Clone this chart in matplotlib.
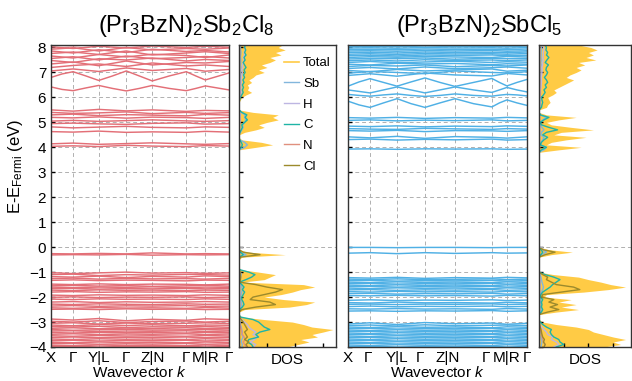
import matplotlib
matplotlib.use('Agg')
import matplotlib.pyplot as plt
from matplotlib.lines import Line2D
import numpy as np

plt.rcParams['font.family'] = ['Liberation Sans', 'DejaVu Sans']
plt.rcParams['mathtext.fontset'] = 'custom'
plt.rcParams['mathtext.rm'] = 'Liberation Sans'
plt.rcParams['mathtext.it'] = 'Liberation Sans:italic'

# ---- data -------------------------------------------------------------
titles = ['(Pr$_3$BzN)$_2$Sb$_2$Cl$_8$', '(Pr$_3$BzN)$_2$SbCl$_5$']
k_labels = ['X', 'Γ', 'Y|L', 'Γ', 'Z|N', 'Γ', 'M|R', 'Γ']
kpts_a = [0.0, 0.124, 0.268, 0.423, 0.569, 0.76, 0.867, 1.0]
kpts_b = [0.0, 0.123, 0.274, 0.43, 0.598, 0.804, 0.888, 1.0]
# where the labels sit under the right panel
klabel_pos_b = [0.0, 0.112, 0.274, 0.402, 0.559, 0.771, 0.888, 1.0]

# bands given at the high-symmetry points
bands_a = [
    [7.06, 7.14, 7.04, 7.18, 7.08, 7.16, 7.05, 7.12],
    [7.2, 7.28, 7.34, 7.24, 7.38, 7.26, 7.3, 7.24],
    [7.34, 7.42, 7.27, 7.46, 7.3, 7.4, 7.38, 7.44],
    [7.48, 7.4, 7.55, 7.5, 7.58, 7.46, 7.52, 7.48],
    [7.56, 7.63, 7.5, 7.66, 7.55, 7.6, 7.64, 7.58],
    [7.66, 7.58, 7.72, 7.62, 7.73, 7.68, 7.6, 7.7],
    [7.76, 7.82, 7.72, 7.86, 7.7, 7.78, 7.83, 7.76],
    [7.86, 7.78, 7.91, 7.8, 7.93, 7.84, 7.88, 7.82],
    [7.93, 7.99, 7.86, 8.0, 7.9, 7.96, 7.93, 7.98],
    [8.03, 7.96, 8.05, 7.98, 8.06, 8.0, 8.05, 8.01],
    [8.1, 8.07, 8.12, 8.08, 8.11, 8.09, 8.08, 8.12],
    [5.5, 5.45, 5.52, 5.46, 5.5, 5.44, 5.48, 5.46],
    [5.4, 5.36, 5.38, 5.42, 5.35, 5.4, 5.36, 5.39],
    [5.3, 5.33, 5.27, 5.31, 5.29, 5.26, 5.32, 5.29],
    [5.2, 5.18, 5.22, 5.17, 5.21, 5.19, 5.16, 5.2],
    [5.05, 5.08, 5.04, 5.07, 5.1, 5.06, 5.04, 5.07],
    [4.95, 4.97, 4.94, 4.92, 4.96, 4.98, 4.93, 4.95],
    [4.82, 4.78, 4.81, 4.84, 4.8, 4.78, 4.82, 4.8],
    [4.63, 4.61, 4.65, 4.6, 4.62, 4.6, 4.64, 4.61],
    [4.14, 4.17, 4.12, 4.15, 4.18, 4.14, 4.12, 4.15],
    [4.04, 4.06, 4.03, 4.08, 4.05, 4.03, 4.07, 4.05],
    [-0.26, -0.27, -0.25, -0.27, -0.23, -0.27, -0.26, -0.27],
    [-0.31, -0.3, -0.31, -0.29, -0.32, -0.3, -0.31, -0.3],
    [-1.02, -1.06, -1.03, -1.0, -1.04, -1.02, -1.05, -1.03],
    [-1.1, -1.08, -1.14, -1.1, -1.12, -1.09, -1.1, -1.12],
    [-1.18, -1.2, -1.16, -1.22, -1.17, -1.2, -1.15, -1.18],
    [-1.26, -1.24, -1.28, -1.25, -1.27, -1.26, -1.28, -1.25],
    [-1.33, -1.31, -1.34, -1.32, -1.33, -1.35, -1.32, -1.33],
    [-1.48, -1.5, -1.47, -1.5, -1.48, -1.49, -1.51, -1.48],
    [-1.55, -1.53, -1.56, -1.54, -1.57, -1.55, -1.53, -1.56],
    [-1.6, -1.62, -1.6, -1.61, -1.59, -1.62, -1.6, -1.61],
    [-1.66, -1.65, -1.68, -1.66, -1.67, -1.65, -1.67, -1.66],
    [-1.72, -1.74, -1.71, -1.73, -1.72, -1.74, -1.72, -1.73],
    [-1.8, -1.78, -1.81, -1.79, -1.8, -1.78, -1.81, -1.8],
    [-1.92, -1.94, -1.91, -1.93, -1.92, -1.94, -1.91, -1.93],
    [-2.01, -1.99, -2.02, -2.0, -2.01, -1.99, -2.02, -2.0],
    [-2.08, -2.1, -2.07, -2.09, -2.08, -2.1, -2.07, -2.09],
    [-2.2, -2.18, -2.22, -2.19, -2.21, -2.2, -2.18, -2.2],
    [-2.28, -2.3, -2.27, -2.29, -2.3, -2.27, -2.29, -2.28],
    [-2.36, -2.34, -2.37, -2.35, -2.36, -2.34, -2.37, -2.36],
    [-2.43, -2.45, -2.42, -2.44, -2.43, -2.45, -2.42, -2.44],
    [-2.49, -2.48, -2.5, -2.47, -2.49, -2.48, -2.5, -2.49],
    [-2.88, -2.92, -2.86, -2.95, -2.89, -2.93, -2.87, -2.9],
    [-2.97, -3.0, -2.95, -3.02, -2.98, -2.96, -3.0, -2.97],
    [-3.05, -3.03, -3.08, -3.04, -3.07, -3.05, -3.03, -3.06],
    [-3.12, -3.15, -3.1, -3.14, -3.11, -3.15, -3.12, -3.13],
    [-3.18, -3.2, -3.17, -3.22, -3.19, -3.2, -3.18, -3.21],
    [-3.25, -3.23, -3.27, -3.24, -3.26, -3.23, -3.26, -3.25],
    [-3.3, -3.33, -3.31, -3.29, -3.32, -3.31, -3.3, -3.32],
    [-3.36, -3.35, -3.38, -3.36, -3.37, -3.35, -3.38, -3.36],
    [-3.42, -3.44, -3.41, -3.43, -3.42, -3.44, -3.41, -3.43],
    [-3.49, -3.47, -3.5, -3.48, -3.49, -3.47, -3.5, -3.48],
    [-3.55, -3.57, -3.54, -3.56, -3.55, -3.57, -3.54, -3.56],
    [-3.62, -3.6, -3.63, -3.61, -3.62, -3.6, -3.63, -3.61],
    [-3.68, -3.7, -3.67, -3.69, -3.68, -3.7, -3.67, -3.69],
    [-3.75, -3.73, -3.76, -3.74, -3.75, -3.73, -3.76, -3.74],
    [-3.81, -3.83, -3.8, -3.82, -3.81, -3.83, -3.8, -3.82],
    [-3.87, -3.86, -3.89, -3.87, -3.88, -3.86, -3.89, -3.87],
    [-3.93, -3.95, -3.92, -3.94, -3.93, -3.95, -3.92, -3.94],
    [-3.98, -3.97, -4.0, -3.98, -3.99, -3.97, -4.0, -3.98],
]
# dispersive bands given at high-symmetry points and segment midpoints
wavy_a = [
    [6.8, 6.94, 7.03, 6.86, 6.68, 6.86, 7.06, 6.86, 6.66, 6.86, 7.03, 6.86, 6.7, 6.84, 6.98],
    [6.42, 6.32, 6.27, 6.38, 6.48, 6.36, 6.26, 6.36, 6.48, 6.36, 6.27, 6.36, 6.46, 6.38, 6.3],
]

bands_b = [
    [6.88, 6.95, 6.85, 6.98, 6.9, 6.86, 6.96, 6.9],
    [6.97, 7.04, 7.0, 6.95, 7.06, 7.0, 6.98, 7.03],
    [7.08, 7.03, 7.12, 7.06, 7.1, 7.14, 7.05, 7.09],
    [7.16, 7.2, 7.14, 7.22, 7.15, 7.19, 7.22, 7.17],
    [7.24, 7.28, 7.26, 7.3, 7.23, 7.28, 7.26, 7.3],
    [7.33, 7.3, 7.37, 7.34, 7.36, 7.31, 7.35, 7.33],
    [7.4, 7.44, 7.39, 7.42, 7.45, 7.4, 7.43, 7.41],
    [7.47, 7.5, 7.46, 7.51, 7.48, 7.5, 7.47, 7.5],
    [7.54, 7.56, 7.55, 7.58, 7.53, 7.57, 7.55, 7.56],
    [7.6, 7.63, 7.61, 7.64, 7.62, 7.6, 7.64, 7.62],
    [7.67, 7.69, 7.66, 7.7, 7.68, 7.7, 7.67, 7.69],
    [7.73, 7.75, 7.72, 7.76, 7.74, 7.75, 7.73, 7.76],
    [7.8, 7.81, 7.78, 7.82, 7.8, 7.81, 7.79, 7.82],
    [7.86, 7.87, 7.85, 7.88, 7.86, 7.88, 7.85, 7.87],
    [7.92, 7.93, 7.91, 7.94, 7.92, 7.93, 7.91, 7.94],
    [7.98, 7.99, 7.97, 8.0, 7.98, 7.99, 7.97, 8.0],
    [8.04, 8.05, 8.03, 8.06, 8.04, 8.05, 8.03, 8.06],
    [8.1, 8.1, 8.09, 8.11, 8.1, 8.1, 8.09, 8.11],
    [5.19, 5.17, 5.2, 5.16, 5.19, 5.17, 5.2, 5.18],
    [5.08, 5.1, 5.06, 5.09, 5.07, 5.1, 5.06, 5.08],
    [4.85, 4.83, 4.86, 4.82, 4.85, 4.83, 4.86, 4.84],
    [4.75, 4.73, 4.72, 4.76, 4.74, 4.72, 4.75, 4.73],
    [4.67, 4.65, 4.68, 4.63, 4.67, 4.66, 4.64, 4.67],
    [4.42, 4.38, 4.44, 4.36, 4.43, 4.4, 4.37, 4.42],
    [4.31, 4.33, 4.29, 4.32, 4.3, 4.33, 4.29, 4.31],
    [3.93, 3.94, 3.92, 3.94, 3.93, 3.94, 3.92, 3.93],
    [-0.01, -0.01, -0.02, -0.01, -0.01, -0.02, -0.01, -0.01],
    [-0.24, -0.22, -0.26, -0.22, -0.25, -0.22, -0.24, -0.23],
    [-1.22, -1.24, -1.21, -1.25, -1.22, -1.24, -1.21, -1.23],
    [-1.28, -1.3, -1.27, -1.3, -1.29, -1.27, -1.3, -1.28],
    [-1.34, -1.33, -1.36, -1.34, -1.35, -1.33, -1.36, -1.34],
    [-1.4, -1.42, -1.39, -1.41, -1.4, -1.42, -1.39, -1.41],
    [-1.46, -1.45, -1.48, -1.46, -1.47, -1.45, -1.48, -1.46],
    [-1.52, -1.54, -1.51, -1.53, -1.52, -1.54, -1.51, -1.53],
    [-1.58, -1.57, -1.6, -1.58, -1.59, -1.57, -1.6, -1.58],
    [-1.64, -1.66, -1.63, -1.65, -1.64, -1.66, -1.63, -1.65],
    [-1.71, -1.7, -1.73, -1.71, -1.72, -1.7, -1.73, -1.71],
    [-1.78, -1.8, -1.77, -1.79, -1.78, -1.8, -1.77, -1.79],
    [-1.86, -1.85, -1.88, -1.86, -1.87, -1.85, -1.88, -1.86],
    [-1.94, -1.95, -1.93, -1.95, -1.94, -1.96, -1.93, -1.95],
    [-2.13, -2.11, -2.14, -2.12, -2.13, -2.11, -2.14, -2.12],
    [-2.22, -2.24, -2.2, -2.23, -2.22, -2.24, -2.21, -2.23],
    [-2.29, -2.28, -2.3, -2.28, -2.29, -2.27, -2.3, -2.28],
    [-2.38, -2.36, -2.39, -2.37, -2.38, -2.36, -2.39, -2.37],
    [-2.47, -2.48, -2.46, -2.48, -2.47, -2.49, -2.46, -2.48],
    [-2.56, -2.55, -2.57, -2.55, -2.56, -2.54, -2.57, -2.55],
    [-3.08, -3.03, -3.1, -3.02, -3.07, -3.04, -3.09, -3.05],
    [-3.14, -3.12, -3.16, -3.11, -3.15, -3.13, -3.12, -3.14],
    [-3.2, -3.22, -3.19, -3.21, -3.2, -3.23, -3.19, -3.21],
    [-3.26, -3.25, -3.28, -3.26, -3.27, -3.25, -3.28, -3.26],
    [-3.32, -3.34, -3.31, -3.33, -3.32, -3.34, -3.31, -3.33],
    [-3.38, -3.37, -3.4, -3.38, -3.39, -3.37, -3.4, -3.38],
    [-3.44, -3.46, -3.43, -3.45, -3.44, -3.46, -3.43, -3.45],
    [-3.5, -3.49, -3.52, -3.5, -3.51, -3.49, -3.52, -3.5],
    [-3.56, -3.58, -3.55, -3.57, -3.56, -3.58, -3.55, -3.57],
    [-3.62, -3.61, -3.64, -3.62, -3.63, -3.61, -3.64, -3.62],
    [-3.68, -3.7, -3.67, -3.69, -3.68, -3.7, -3.67, -3.69],
    [-3.74, -3.73, -3.76, -3.74, -3.75, -3.73, -3.76, -3.74],
    [-3.8, -3.82, -3.79, -3.81, -3.8, -3.82, -3.79, -3.81],
    [-3.86, -3.85, -3.88, -3.86, -3.87, -3.85, -3.88, -3.86],
    [-3.92, -3.94, -3.91, -3.93, -3.92, -3.94, -3.91, -3.93],
    [-3.98, -3.97, -4.0, -3.98, -3.99, -3.97, -4.0, -3.98],
]
wavy_b = [
    [6.45, 6.62, 6.75, 6.6, 6.45, 6.62, 6.78, 6.6, 6.44, 6.6, 6.76, 6.6, 6.46, 6.6, 6.72],
    [6.3, 6.24, 6.18, 6.3, 6.42, 6.3, 6.18, 6.3, 6.42, 6.3, 6.2, 6.3, 6.4, 6.3, 6.22],
    [6.12, 6.08, 6.05, 6.1, 6.14, 6.08, 6.04, 6.08, 6.14, 6.08, 6.05, 6.09, 6.12, 6.1, 6.06],
    [5.85, 5.7, 5.6, 5.78, 5.95, 5.75, 5.6, 5.78, 5.95, 5.75, 5.62, 5.78, 5.9, 5.78, 5.68],
]

# DOS on a 0.1 eV grid from -4.0 to 8.1 eV
dos_energy = np.round(np.arange(-4.0, 8.11, 0.1), 2)

dos_total_a = ([1.7, 2.1, 2.5, 2.2, 2.8, 2.6, 3.0, 3.35, 2.6, 2.3,
                1.9, 0.9, 0.1, 0.0, 0.0, 0.2, 1.8, 2.4, 2.7, 1.6,
                0.9, 1.5, 1.9, 2.2, 2.7, 2.3, 0.1, 0.9, 1.1, 1.3,
                0.7, 0.05, 0.0, 0.0, 0.0, 0.0, 0.1, 1.65, 0.3, 0.0]
               + [0.0] * 40 +
               [0.6, 1.2, 0.8, 0.1, 0.0, 0.0, 0.2, 0.6, 0.9, 0.7,
                1.0, 1.4, 1.2, 1.4, 0.5, 0.0, 0.0, 0.0, 0.0, 0.05,
                0.1, 0.25, 0.45, 0.3, 0.35, 0.3, 0.45, 0.35, 0.5, 0.6,
                0.9, 0.7, 1.0, 0.8, 1.1, 1.3, 1.1, 1.5, 1.3, 1.65,
                1.4, 1.55])
dos_sb_a = ([0.1, 0.12, 0.08, 0.1, 0.15, 0.1, 0.12, 0.1, 0.08, 0.05,
             0.04, 0.02, 0.0, 0.0, 0.0, 0.02, 0.08, 0.1, 0.08, 0.05,
             0.05, 0.08, 0.1, 0.12, 0.1, 0.08, 0.0, 0.05, 0.06, 0.08,
             0.05, 0.0, 0.0, 0.0, 0.0, 0.0, 0.02, 0.25, 0.05, 0.0]
            + [0.0] * 40 +
            [0.2, 0.3, 0.2, 0.02, 0.0, 0.0, 0.05, 0.1, 0.15, 0.12,
             0.2, 0.25, 0.2, 0.22, 0.08, 0.0, 0.0, 0.0, 0.0, 0.0,
             0.02, 0.04, 0.05, 0.04, 0.05, 0.04, 0.06, 0.05, 0.06, 0.05,
             0.06, 0.05, 0.07, 0.05, 0.06, 0.07, 0.05, 0.06, 0.07, 0.06,
             0.05, 0.06])
dos_h_a = ([0.5, 0.6, 0.4, 0.55, 0.65, 0.5, 0.6, 0.45, 0.35, 0.3,
            0.2, 0.1, 0.02, 0.0, 0.0, 0.01, 0.03, 0.04, 0.03, 0.02,
            0.02, 0.03, 0.04, 0.03, 0.04, 0.03, 0.0, 0.02, 0.03, 0.04,
            0.02, 0.0, 0.0, 0.0, 0.0, 0.0, 0.0, 0.03, 0.01, 0.0]
           + [0.0] * 40 +
           [0.02, 0.03, 0.02, 0.0, 0.0, 0.0, 0.01, 0.02, 0.03, 0.02,
            0.04, 0.05, 0.04, 0.05, 0.02, 0.0, 0.0, 0.0, 0.0, 0.0,
            0.03, 0.05, 0.08, 0.06, 0.07, 0.06, 0.08, 0.07, 0.09, 0.1,
            0.12, 0.1, 0.14, 0.12, 0.15, 0.18, 0.15, 0.2, 0.18, 0.22,
            0.2, 0.22])
dos_c_a = ([0.5, 0.45, 0.3, 0.35, 0.7, 0.6, 0.75, 1.1, 0.9, 0.8,
            0.7, 0.5, 0.05, 0.0, 0.0, 0.02, 0.12, 0.18, 0.15, 0.1,
            0.1, 0.15, 0.2, 0.12, 0.18, 0.1, 0.02, 0.25, 0.45, 0.57,
            0.35, 0.02, 0.0, 0.0, 0.0, 0.0, 0.02, 0.15, 0.05, 0.0]
           + [0.0] * 40 +
           [0.08, 0.12, 0.08, 0.02, 0.0, 0.0, 0.03, 0.08, 0.12, 0.1,
            0.2, 0.3, 0.22, 0.28, 0.1, 0.0, 0.0, 0.0, 0.0, 0.02,
            0.05, 0.1, 0.15, 0.12, 0.16, 0.12, 0.18, 0.14, 0.2, 0.16,
            0.22, 0.18, 0.25, 0.2, 0.15, 0.22, 0.18, 0.25, 0.2, 0.24,
            0.2, 0.22])
dos_n_a = ([0.25, 0.2, 0.15, 0.22, 0.18, 0.12, 0.1, 0.08, 0.05, 0.03,
            0.02, 0.01, 0.0, 0.0, 0.0, 0.0, 0.01, 0.02, 0.01, 0.01]
           + [0.0] * 80 + [0.02] * 22)
dos_cl_a = ([0.3, 0.25, 0.35, 0.2, 0.3, 0.25, 0.2, 0.3, 0.25, 0.2,
             0.15, 0.08, 0.02, 0.0, 0.0, 0.1, 0.6, 1.3, 1.1, 0.4,
             0.5, 0.9, 1.3, 1.55, 1.0, 0.6, 0.02, 0.05, 0.06, 0.05,
             0.04, 0.0, 0.0, 0.0, 0.0, 0.0, 0.05, 0.75, 0.15, 0.0]
            + [0.0] * 82)

dos_total_b = ([2.6, 3.3, 3.0, 3.5, 3.0, 2.6, 2.2, 2.0, 1.5, 0.7,
                0.15, 0.0, 0.0, 0.0, 0.7, 1.6, 0.9, 1.5, 0.8, 1.3,
                0.2, 0.3, 1.8, 2.8, 3.5, 2.9, 2.5, 2.0, 1.6, 0.6,
                0.0, 0.0, 0.0, 0.0, 0.0, 0.0, 0.0, 0.5, 1.35, 0.4]
               + [0.0] * 39 + [0.8] +
               [1.7, 0.3, 0.5, 1.1, 1.9, 0.6, 0.9, 2.2, 1.3, 0.5,
                0.3, 0.8, 1.5, 0.3, 0.0, 0.0, 0.3, 0.35, 0.45, 0.4,
                0.35, 0.55, 0.7, 0.6, 0.8, 1.0, 1.2, 1.4, 1.1, 1.25,
                1.5, 1.7, 1.5, 1.85, 1.6, 2.3, 1.9, 2.2, 2.0, 2.35,
                2.1, 1.6])
dos_sb_b = ([0.08, 0.1, 0.12, 0.1, 0.08, 0.1, 0.06, 0.05, 0.04, 0.02,
             0.01, 0.0, 0.0, 0.0, 0.05, 0.1, 0.06, 0.1, 0.05, 0.08,
             0.02, 0.03, 0.1, 0.15, 0.18, 0.15, 0.12, 0.1, 0.08, 0.04,
             0.0, 0.0, 0.0, 0.0, 0.0, 0.0, 0.0, 0.1, 0.3, 0.15]
            + [0.0] * 39 + [0.2] +
            [0.3, 0.05, 0.08, 0.15, 0.2, 0.08, 0.1, 0.2, 0.12, 0.05,
             0.05, 0.15, 0.3, 0.05, 0.0, 0.0, 0.03, 0.04, 0.05, 0.04,
             0.04, 0.05, 0.06, 0.05, 0.06, 0.07, 0.08, 0.07, 0.06, 0.07,
             0.08, 0.07, 0.08, 0.09, 0.07, 0.1, 0.08, 0.09, 0.08, 0.1,
             0.09, 0.08])
dos_h_b = ([0.6, 0.8, 0.7, 0.5, 0.55, 0.35, 0.3, 0.2, 0.1, 0.05,
            0.02, 0.0, 0.0, 0.0, 0.01, 0.02, 0.01, 0.02, 0.01, 0.02,
            0.01, 0.02, 0.03, 0.04, 0.05, 0.04, 0.05, 0.04, 0.03, 0.02]
           + [0.0] * 50 +
           [0.03, 0.01, 0.02, 0.03, 0.04, 0.02, 0.03, 0.05, 0.03, 0.01,
            0.01, 0.02, 0.04, 0.01, 0.0, 0.0, 0.02, 0.03, 0.04, 0.03,
            0.04, 0.05, 0.06, 0.06, 0.08, 0.08, 0.1, 0.1, 0.09, 0.11,
            0.12, 0.13, 0.12, 0.15, 0.14, 0.18, 0.16, 0.18, 0.17, 0.2,
            0.18, 0.16])
dos_c_b = ([0.7, 1.0, 0.85, 0.8, 0.6, 0.5, 0.45, 0.5, 0.3, 0.15,
            0.05, 0.0, 0.0, 0.0, 0.1, 0.15, 0.1, 0.12, 0.1, 0.15,
            0.05, 0.08, 0.15, 0.3, 0.45, 0.55, 0.7, 0.85, 0.6, 0.25,
            0.0, 0.0, 0.0, 0.0, 0.0, 0.0, 0.0, 0.08, 0.15, 0.08]
           + [0.0] * 39 + [0.1] +
           [0.3, 0.05, 0.1, 0.2, 0.35, 0.15, 0.3, 0.75, 0.4, 0.1,
            0.05, 0.2, 0.4, 0.05, 0.0, 0.0, 0.1, 0.12, 0.15, 0.12,
            0.1, 0.18, 0.25, 0.2, 0.3, 0.25, 0.35, 0.3, 0.22, 0.3,
            0.35, 0.28, 0.3, 0.38, 0.25, 0.32, 0.4, 0.3, 0.35, 0.28,
            0.3, 0.25])
dos_n_b = ([0.2, 0.25, 0.18, 0.15, 0.12, 0.1, 0.08, 0.06, 0.04, 0.02]
           + [0.0] * 90 + [0.03] * 22)
dos_cl_b = ([0.2, 0.25, 0.18, 0.22, 0.15, 0.12, 0.1, 0.08, 0.05, 0.03,
             0.01, 0.0, 0.0, 0.0, 0.35, 0.8, 0.45, 0.75, 0.4, 0.6,
             0.1, 0.15, 0.9, 1.65, 1.4, 0.7, 0.5, 0.3, 0.35, 0.15,
             0.0, 0.0, 0.0, 0.0, 0.0, 0.0, 0.0, 0.25, 0.65, 0.15]
            + [0.0] * 82)

species = ['Sb', 'H', 'C', 'N', 'Cl']
species_colors = ['#82b6dc', '#bdb6e2', '#1fb4a6', '#e0907e', '#9c8a2c']
total_color = '#ffcb45'
band_colors = ['#e36f77', '#4fb0e5']

# ---- figure -----------------------------------------------------------
W, H = 632, 381
fig = plt.figure(figsize=(W / 100, H / 100), dpi=100)


def px_axes(x0, x1, y0=45, y1=347):
    return fig.add_axes([x0 / W, 1 - y1 / H, (x1 - x0) / W, (y1 - y0) / H])


def style_frame(ax):
    for s in ax.spines.values():
        s.set_linewidth(1.0)
        s.set_color('#333333')


def plot_bands(ax, kpts, label_pos, bands, wavy, color, ylabels):
    kpts = np.array(kpts)
    knodes = np.sort(np.concatenate([kpts, (kpts[:-1] + kpts[1:]) / 2]))
    for k in kpts[1:-1]:
        ax.axvline(k, ls=(0, (4, 3)), color='#b0b0b0', lw=0.7, zorder=0)
    for e in range(-3, 9):
        ax.axhline(e, ls=(0, (4, 3)), color='#b0b0b0', lw=0.7, zorder=0)
    for b in bands:
        ax.plot(kpts, b, color=color, lw=1.05)
    for b in wavy:
        ax.plot(knodes, b, color=color, lw=1.05)
    ax.set_xlim(0, 1)
    ax.set_ylim(-4, 8.1)
    ax.set_xticks(label_pos)
    ax.set_xticklabels(k_labels, fontsize=11)
    ax.set_yticks(range(-4, 9))
    if not ylabels:
        ax.set_yticklabels([])
    else:
        ax.tick_params(axis='y', labelsize=11)
    ax.tick_params(axis='x', length=0, pad=3)
    ax.tick_params(axis='y', direction='in', length=3, width=1.0)
    ax.set_xlabel('Wavevector $k$', fontsize=11, labelpad=0)
    style_frame(ax)


def plot_dos(ax, total, parts, xmax):
    ax.fill_betweenx(dos_energy, 0, total, color=total_color, lw=0)
    for vals, c in zip(parts, species_colors):
        ax.plot(vals, dos_energy, color=c, lw=1.0)
    ax.axhline(0, color='#b0b0b0', ls=(0, (4, 3)), lw=0.7)
    ax.set_xlim(0, xmax)
    ax.set_ylim(-4, 8.1)
    ax.set_yticks(range(-4, 9))
    ax.set_yticklabels([])
    ax.set_xticks([1, 2, 3])
    ax.set_xticklabels([])
    ax.tick_params(direction='in', length=3, width=1.0)
    ax.set_xlabel('DOS', fontsize=11, labelpad=1)
    style_frame(ax)


ax_band_a = px_axes(51, 229)
ax_dos_a = px_axes(239, 336)
ax_band_b = px_axes(348, 527)
ax_dos_b = px_axes(539, 631)

plot_bands(ax_band_a, kpts_a, kpts_a, bands_a, wavy_a, band_colors[0], True)
plot_bands(ax_band_b, kpts_b, klabel_pos_b, bands_b, wavy_b, band_colors[1], False)
plot_dos(ax_dos_a, dos_total_a, [dos_sb_a, dos_h_a, dos_c_a, dos_n_a, dos_cl_a], 3.46)
plot_dos(ax_dos_b, dos_total_b, [dos_sb_b, dos_h_b, dos_c_b, dos_n_b, dos_cl_b], 3.72)

handles = [Line2D([], [], color=total_color, lw=1.2)]
handles += [Line2D([], [], color=c, lw=1.0) for c in species_colors]
ax_dos_a.legend(handles, ['Total'] + species, loc='upper left',
                bbox_to_anchor=(284 / W, 1 - 57 / H), bbox_transform=fig.transFigure,
                frameon=False, fontsize=9.5, handlelength=1.1, handletextpad=0.35,
                labelspacing=0.64, borderpad=0, borderaxespad=0)

fig.text(16 / W, 1 - 166 / H, r'E-E$_{\mathrm{Fermi}}$ (eV)', rotation=90,
         ha='center', va='center', fontsize=12)
fig.text(186 / W, 1 - 26 / H, titles[0], ha='center', va='center', fontsize=17)
fig.text(479 / W, 1 - 26 / H, titles[1], ha='center', va='center', fontsize=17)

fig.savefig('out.png', dpi=100)
